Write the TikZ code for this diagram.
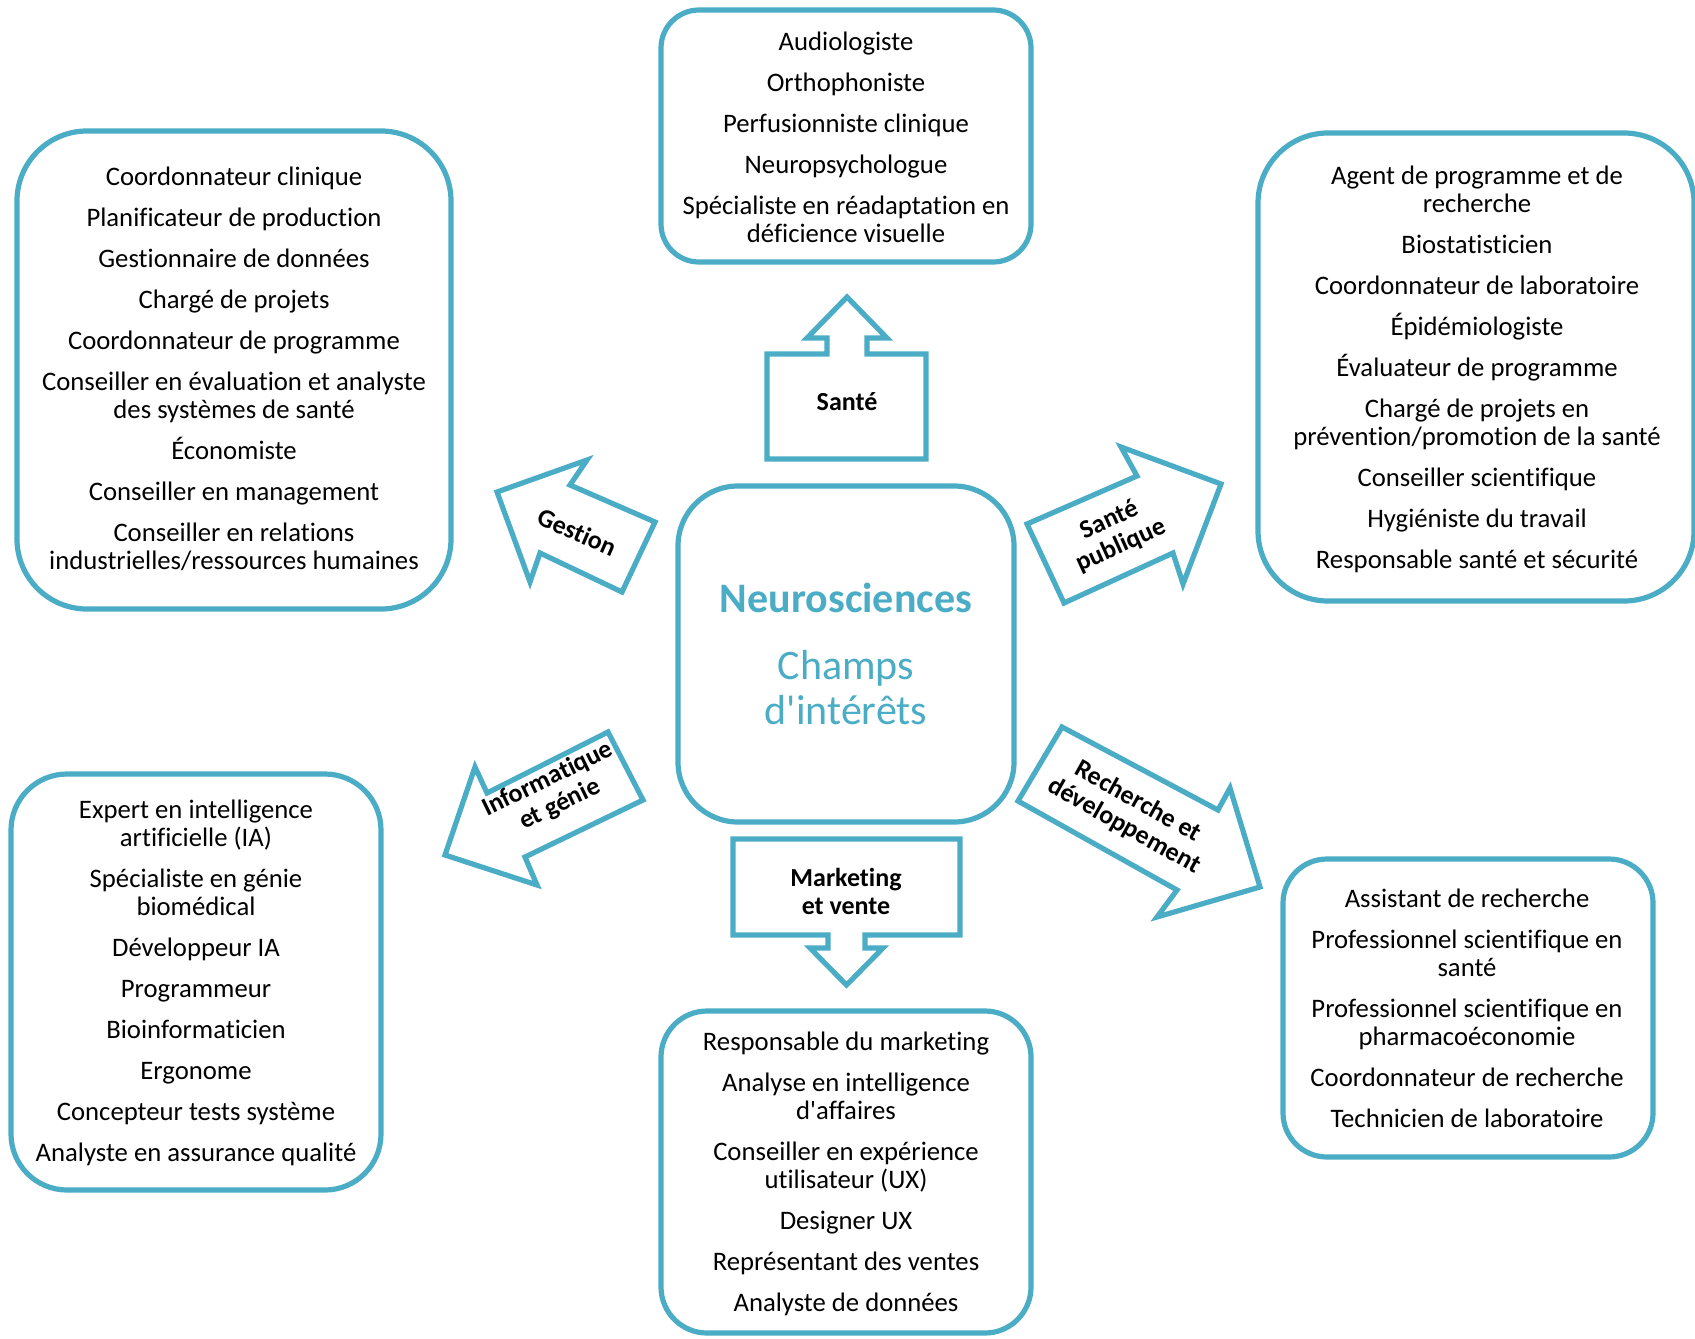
\documentclass[tikz,border=0pt]{standalone}
\usepackage{fontspec}
\setmainfont{Carlito}[Ligatures={NoCommon,NoContextual}]
\definecolor{aqua}{HTML}{4BACC6}
\begin{document}
\begin{tikzpicture}[x=0.5pt,y=-0.5pt,
  box/.style={draw=aqua, line width=2.6pt, inner sep=0pt, rounded corners=#1},
  arr/.style={draw=aqua, line width=2.6pt, line join=miter},
  lst/.style={align=center, inner sep=0pt, text=black, font=\fontsize{13.35}{14}\selectfont},
  lbl/.style={align=center, inner sep=0pt, text=black, font=\bfseries\fontsize{13}{14}\selectfont},
]
\useasboundingbox (0,0) rectangle (1695,1338);

% ---- boxes ----
\node[box=19pt, minimum width=185pt, minimum height=126pt] (bsante) at (846,136) {};
\node[box=35pt, minimum width=217pt, minimum height=239pt] (bgestion) at (234,370) {};
\node[box=35pt, minimum width=218pt, minimum height=234pt] (bpublique) at (1476,367) {};
\node[box=28pt, minimum width=185pt, minimum height=208pt] (binfo) at (196,982) {};
\node[box=22pt, minimum width=185pt, minimum height=149pt] (brecherche) at (1468,1008) {};
\node[box=23pt, minimum width=185pt, minimum height=161pt] (bmarketing) at (846,1172) {};
\node[box=30pt, minimum width=168pt, minimum height=168pt] (bcentre) at (846,654) {};

% ---- centre text ----
\node[inner sep=0pt, text=aqua, font=\bfseries\fontsize{21}{22.5}\selectfont] (neuro) at (846,598) {Neurosciences};
\node[inner sep=0pt, text=aqua, align=center, font=\fontsize{21}{22.5}\selectfont] (champs) at (846,688) {Champs\\d\textquotesingle intérêts};

% ---- arrows ----
\draw[arr] (767,459) -- (767,354) -- (827,354) -- (827,338) -- (807,338) -- (847,297) -- (887,338) -- (867,338) -- (867,354) -- (926,354) -- (926,459) -- cycle;
\node[lbl] (asante) at (847,402) {Santé};

\draw[arr] (733,839) -- (960,839) -- (960,935) -- (865,935) -- (865,948) -- (883,948) -- (846.5,985) -- (810,948) -- (828,948) -- (828,935) -- (733,935) -- cycle;
\node[lbl] (amarketing) at (846,891) {Marketing\\et vente};

\draw[arr] (497,492) -- (587,460) -- (570,485) -- (655,522) -- (622,592) -- (540,553) -- (530,582) -- cycle;
\node[lbl, rotate=-23.5] (agestion) at (577,532) {Gestion};

\draw[arr] (1027,524) -- (1137,476) -- (1121,447) -- (1221,484) -- (1183,584) -- (1173,553) -- (1064,603) -- cycle;
\node[lbl, rotate=24.4] (apublique) at (1115,533) {Santé\\publique};

\draw[arr] (608,732) -- (643,800) -- (525,857) -- (537,885) -- (445,855) -- (475,767) -- (487,793) -- cycle;
\node[lbl, rotate=26] (ainfo) at (554,792) {Informatique\\et génie};

\draw[arr] (1062,727) -- (1218,810) -- (1230,788) -- (1260,887) -- (1157,917) -- (1177,890) -- (1018,801) -- cycle;
\node[lbl, rotate=-29.2] (arecherche) at (1131,814) {Recherche et\\développement};

% ---- lists ----
\node[lst] (lsante) at (846,137) {Audiologiste\\[6.5pt]Orthophoniste\\[6.5pt]Perfusionniste clinique\\[6.5pt]Neuropsychologue\\[6.5pt]Spécialiste en réadaptation en\\déficience visuelle};

\node[lst] (lgestion) at (234,369) {Coordonnateur clinique\\[6.5pt]Planificateur de production\\[6.5pt]Gestionnaire de données\\[6.5pt]Chargé de projets\\[6.5pt]Coordonnateur de programme\\[6.5pt]Conseiller en évaluation et analyste\\des systèmes de santé\\[6.5pt]Économiste\\[6.5pt]Conseiller en management\\[6.5pt]Conseiller en relations\\industrielles/ressources humaines};

\node[lst] (lpublique) at (1477,369) {Agent de programme et de\\recherche\\[6.5pt]Biostatisticien\\[6.5pt]Coordonnateur de laboratoire\\[6.5pt]Épidémiologiste\\[6.5pt]Évaluateur de programme\\[6.5pt]Chargé de projets en\\prévention/promotion de la santé\\[6.5pt]Conseiller scientifique\\[6.5pt]Hygiéniste du travail\\[6.5pt]Responsable santé et sécurité};

\node[lst] (linfo) at (196,983) {Expert en intelligence\\artificielle (IA)\\[6.5pt]Spécialiste en génie\\biomédical\\[6.5pt]Développeur IA\\[6.5pt]Programmeur\\[6.5pt]Bioinformaticien\\[6.5pt]Ergonome\\[6.5pt]Concepteur tests système\\[6.5pt]Analyste en assurance qualité};

\node[lst] (lrecherche) at (1467,1008) {Assistant de recherche\\[6.5pt]Professionnel scientifique en\\santé\\[6.5pt]Professionnel scientifique en\\pharmacoéconomie\\[6.5pt]Coordonnateur de recherche\\[6.5pt]Technicien de laboratoire};

\node[lst] (lmarketing) at (846,1174) {Responsable du marketing\\[6.5pt]Analyse en intelligence\\d\textquotesingle affaires\\[6.5pt]Conseiller en expérience\\utilisateur (UX)\\[6.5pt]Designer UX\\[6.5pt]Représentant des ventes\\[6.5pt]Analyste de données};
\end{tikzpicture}
\end{document}
